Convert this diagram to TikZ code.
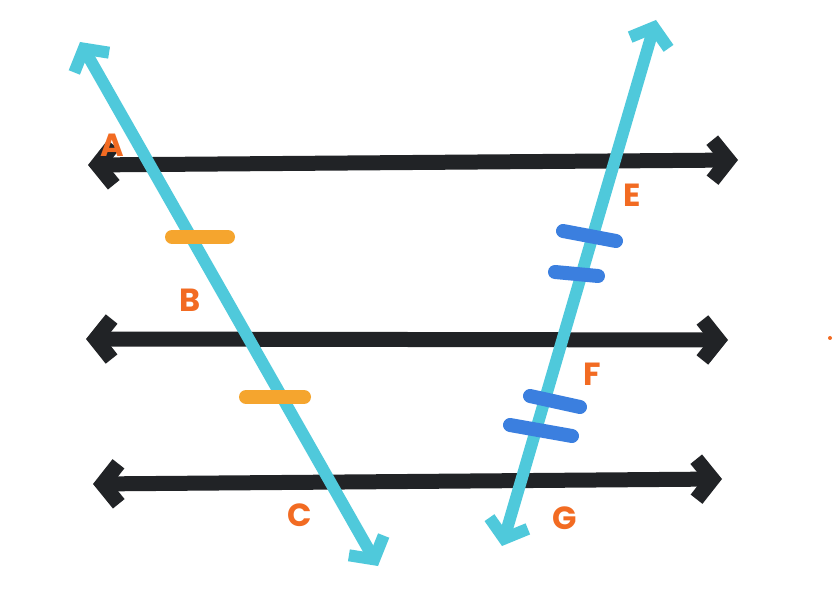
\documentclass[tikz,border=0pt]{standalone}
\usepackage{fontspec}
\setmainfont{Poppins}
\usetikzlibrary{arrows.meta}
\definecolor{ink}{HTML}{212326}
\definecolor{cyanl}{HTML}{4FC9DB}
\definecolor{lab}{HTML}{F26B22}
\definecolor{tickor}{HTML}{F5A52E}
\definecolor{tickbl}{HTML}{3B7FDF}
\tikzset{
  blk/.style={draw=ink,line width=15pt,line cap=round,line join=round,{Straight Barb[length=16pt,width=40pt]}-{Straight Barb[length=16pt,width=40pt]}},
  cyn/.style={draw=cyanl,line width=12pt,line cap=round,line join=round,{Straight Barb[length=16pt,width=40pt]}-{Straight Barb[length=16pt,width=40pt]}},
  otick/.style={draw=tickor,line width=14pt,line cap=round},
  btick/.style={draw=tickbl,line width=14pt,line cap=round},
  lbl/.style={text=lab,font=\fontsize{32}{32}\selectfont\bfseries}
}
\begin{document}
\begin{tikzpicture}[x=1pt,y=-1pt]
\useasboundingbox[fill=white] (0,0) rectangle (836,612);
\coordinate (l1a) at (88,165); \coordinate (l1b) at (738,160);
\coordinate (l2a) at (86,339); \coordinate (l2b) at (728,340);
\coordinate (l3a) at (93,484); \coordinate (l3b) at (722,479);
\coordinate (c1a) at (80,42); \coordinate (c1b) at (378,566);
\coordinate (c2a) at (656,20); \coordinate (c2b) at (502,546);
\draw[blk] (l1a) -- (l1b);
\draw[blk] (l2a) -- (l2b);
\draw[blk] (l3a) -- (l3b);
\draw[cyn] (c1a) -- (c1b);
\draw[cyn] (c2a) -- (c2b);
\draw[otick] (172,237) -- (228,237);
\draw[otick] (246,397) -- (304,397);
\draw[btick] (563,231) -- (616,241);
\draw[btick] (555,272) -- (598,276);
\draw[btick] (530,396) -- (580,407);
\draw[btick] (510,425) -- (572,436);
\node[lbl] (A) at (112,145) {A};
\node[lbl] (B) at (190,300) {B};
\node[lbl] (C) at (300,515) {C};
\node[lbl] (E) at (632,195) {E};
\node[lbl] (F) at (592,374) {F};
\node[lbl] (G) at (565,518) {G};
\fill[lab] (830,338) circle (2);
\end{tikzpicture}
\end{document}
